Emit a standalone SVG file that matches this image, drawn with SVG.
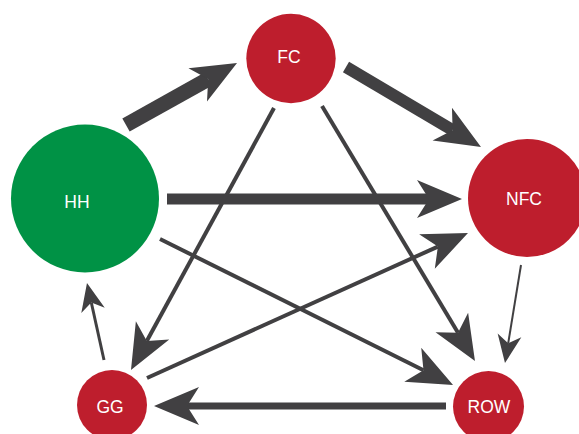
<svg xmlns="http://www.w3.org/2000/svg" width="579" height="434" viewBox="0 0 579 434">
<style>
.red{fill:#BE1E2D}
.green{fill:#009245}
.lbl{fill:#ffffff;font-family:"Liberation Sans",Arial,sans-serif;font-size:17.5px;text-anchor:middle}
.e{stroke:#414042;fill:none;stroke-linecap:butt}
.big{marker-end:url(#hb)}
.small{marker-end:url(#hs)}
</style>
<defs>
<marker id="hb" markerUnits="userSpaceOnUse" orient="auto" refX="12" refY="20" markerWidth="50" markerHeight="40" overflow="visible">
<path d="M45,20 L0,1 L12,20 L0,39 Z" fill="#414042"/>
</marker>
<marker id="hs" markerUnits="userSpaceOnUse" orient="auto" refX="8" refY="12" markerWidth="32" markerHeight="24" overflow="visible">
<path d="M28,12 L0,0 L8,12 L0,24 Z" fill="#414042"/>
</marker>
</defs>
<g id="connectors">
<line class="e big" x1="126" y1="125" x2="208.2" y2="79.1" stroke-width="15"/>
<line class="e big" x1="346" y1="67" x2="452.6" y2="130.2" stroke-width="12"/>
<line class="e big" x1="167" y1="199" x2="429" y2="199" stroke-width="11"/>
<line class="e big" x1="274" y1="108" x2="146.8" y2="341" stroke-width="4"/>
<line class="e big" x1="322" y1="106" x2="458" y2="332.7" stroke-width="4"/>
<line class="e big" x1="160" y1="239" x2="423.5" y2="370.2" stroke-width="4"/>
<line class="e big" x1="147" y1="378" x2="437.9" y2="246.6" stroke-width="4"/>
<line class="e big" x1="446" y1="406" x2="187" y2="406" stroke-width="7"/>
<line class="e small" x1="521" y1="265" x2="508.2" y2="343.3" stroke-width="2"/>
<line class="e small" x1="104" y1="360" x2="91.3" y2="302.5" stroke-width="3"/>
</g>
<g id="FC"><circle class="red" cx="291" cy="58.5" r="44.7"/><text class="lbl" x="289" y="62.5">FC</text></g>
<g id="HH"><circle class="green" cx="85" cy="198.5" r="74"/><text class="lbl" x="77" y="208">HH</text></g>
<g id="NFC"><circle class="red" cx="527" cy="198" r="59"/><text class="lbl" x="524" y="204.5">NFC</text></g>
<g id="GG"><circle class="red" cx="112" cy="405" r="35"/><text class="lbl" x="110" y="413">GG</text></g>
<g id="ROW"><circle class="red" cx="488.5" cy="406.5" r="35.5"/><text class="lbl" x="489" y="413">ROW</text></g>
</svg>
